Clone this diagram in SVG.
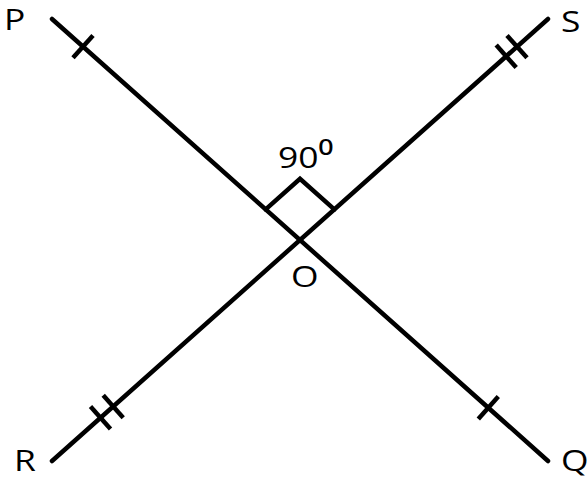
<svg xmlns="http://www.w3.org/2000/svg" width="587" height="480" viewBox="0 0 587 480">
<style>
.ln{stroke:#000;stroke-width:4.5;fill:none;stroke-linecap:round;stroke-linejoin:miter}
.tk{stroke:#000;stroke-width:4.5;fill:none;stroke-linecap:butt}
.lb{font-family:"Open Sans","DejaVu Sans",sans-serif;font-size:30px;fill:#000}
</style>
<rect width="587" height="480" fill="#fff"/>
<g id="connectors">
<line id="PQ" class="ln" x1="52" y1="19" x2="548" y2="461"/>
<line id="SR" class="ln" x1="548" y1="19" x2="52" y2="461"/>
<line class="tk" x1="73" y1="57.8" x2="93" y2="35.4"/>
<line class="tk" x1="478.3" y1="419" x2="498.3" y2="396.6"/>
<line class="tk" x1="507" y1="35.4" x2="527" y2="57.8"/>
<line class="tk" x1="496.2" y1="45.1" x2="516.2" y2="67.5"/>
<line class="tk" x1="103.2" y1="395.3" x2="123.2" y2="417.7"/>
<line class="tk" x1="90.5" y1="406.6" x2="110.5" y2="429"/>
<polyline class="ln" points="265.7,209.4 300,178.8 334.3,209.4"/>
</g>
<g id="P"><text class="lb" transform="translate(4,30) scale(1.18,1)">P</text></g>
<g id="S"><text class="lb" transform="translate(561,32) scale(1.18,1)">S</text></g>
<g id="R"><text class="lb" transform="translate(14,471) scale(1.18,1)">R</text></g>
<g id="Q"><text class="lb" transform="translate(561,471) scale(1.18,1)">Q</text></g>
<g id="O"><text class="lb" transform="translate(291,287) scale(1.18,1)">O</text></g>
<g id="angle"><text class="lb" transform="translate(278,168) scale(1.18,1)">90<tspan style="font-size:36px" dy="2">⁰</tspan></text></g>
</svg>
